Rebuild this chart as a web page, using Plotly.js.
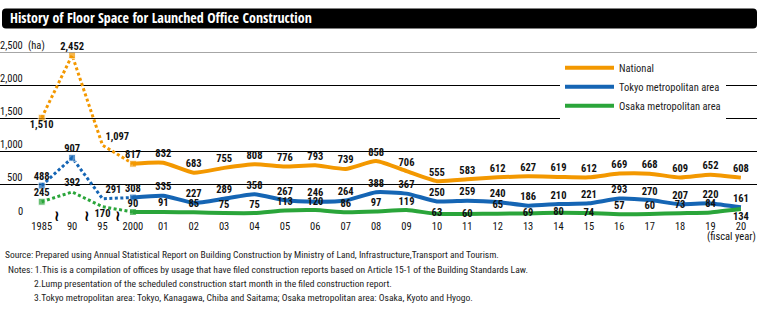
<!DOCTYPE html>
<html>
<head>
<meta charset="utf-8">
<script src="https://cdn.plot.ly/plotly-3.0.1.min.js"></script>
<style>html,body{margin:0;padding:0;background:#fff;}#chart{width:760px;height:331px;}</style>
</head>
<body>
<div id="chart"></div>
<script>
// ---- data ----
const categories = ['1985','90','95','2000','01','02','03','04','05','06','07','08','09','10','11','12','13','14','15','16','17','18','19','20'];
const national = [1510,2452,1097,817,832,683,755,808,776,793,739,858,706,555,583,612,627,619,612,669,668,609,652,608];
const tokyo    = [488,907,291,308,335,227,289,358,267,246,264,388,367,250,259,240,186,210,221,293,270,207,220,161];
const osaka    = [245,392,170,90,91,85,75,75,113,120,86,97,119,63,60,65,69,80,74,57,60,73,84,134];
const seriesNames = ['National','Tokyo metropolitan area','Osaka metropolitan area'];
const yTicks = [0,500,1000,1500,2000,2500];
const yTickText = ['0','500','1,000','1,500','2,000','2,500'];
const breakIndex = 3; // dotted (5-year steps) before 2000, solid after

// ---- styling ----
const FONT = 'Roboto Condensed, DejaVu Sans Condensed, sans-serif';
const TFONT = 'Open Sans Condensed, Roboto Condensed, sans-serif';
const colors = ['#F39800','#1565B4','#2AA53A'];
const W = 760, H = 331, ML = 0, MR = 3, MT = 51.7, MB = 112.7;
const PW = W - ML - MR, PH = H - MT - MB;
const px = x => (x - ML) / PW;
const py = y => (H - MB - y) / PH;

// font size that makes a text line span a given pixel width
const ctx = document.createElement('canvas').getContext('2d');
function fitSize(text, width) {
  ctx.font = '20px "Roboto Condensed", sans-serif';
  const w = ctx.measureText(text).width;
  return Math.max(8, Math.min(12, 20 * width / w));
}

const allSeries = [national, tokyo, osaka];
const fmt = v => v.toLocaleString('en-US');

const posNat = categories.map(() => 'top center');
posNat[0] = 'bottom center'; posNat[2] = 'top right';
const posTok = categories.map(() => 'top center');
posTok[2] = 'top right';
const posOsa = categories.map(() => 'top center');
posOsa[2] = 'bottom center'; posOsa[13] = 'middle center'; posOsa[14] = 'middle center';
posOsa[16] = 'middle center'; posOsa[17] = 'middle center'; posOsa[18] = 'middle center';
posOsa[23] = 'bottom center';
const positions = [posNat, posTok, posOsa];
const dotMarkerSizes = [[7,7,0,7],[7,7,0,7],[7,0,0,7]];

const traces = [];
allSeries.forEach((s, k) => {
  traces.push({
    type: 'scatter', mode: 'lines+markers',
    x: categories.slice(0, breakIndex + 1), y: s.slice(0, breakIndex + 1),
    line: {color: colors[k], width: 3, dash: '3px,2.5px'},
    marker: {symbol: 'square', size: dotMarkerSizes[k], color: colors[k]},
    showlegend: false, hoverinfo: 'skip'
  });
});
allSeries.forEach((s, k) => {
  traces.push({
    type: 'scatter', mode: 'lines', name: seriesNames[k],
    x: categories.slice(breakIndex), y: s.slice(breakIndex),
    line: {color: colors[k], width: 4, shape: 'spline', smoothing: 0.5},
    showlegend: true
  });
});
allSeries.forEach((s, k) => {
  traces.push({
    type: 'scatter', mode: 'markers+text',
    x: categories, y: s, text: s.map(fmt),
    textposition: positions[k],
    marker: {size: 3, opacity: 0, color: colors[k]},
    textfont: {family: FONT, size: 10.5, color: '#111', weight: 'bold'},
    cliponaxis: false, showlegend: false, hoverinfo: 'skip'
  });
});

const annotations = [];
yTicks.forEach((v, i) => {
  annotations.push({xref: 'paper', yref: 'y', x: px(24.5), y: v, xanchor: 'right', yanchor: 'middle',
    yshift: 7, text: yTickText[i], showarrow: false, font: {family: FONT, size: 10.5, color: '#111'}});
});
annotations.push({xref: 'paper', yref: 'y', x: px(26), y: 2500, xanchor: 'left', yanchor: 'middle',
  yshift: 7, text: '(ha)', showarrow: false, font: {family: FONT, size: 10.5, color: '#111'}});
[0.5, 1.5, 2.5].forEach(b => {
  annotations.push({xref: 'x', yref: 'y', x: b, y: 0, xanchor: 'center', yanchor: 'middle', yshift: 2,
    text: '≀', showarrow: false, font: {family: 'DejaVu Sans', size: 15, color: '#000', weight: 'bold'}});
});
annotations.push({xref: 'paper', yref: 'paper', x: px(731.5), y: py(237), xanchor: 'center', yanchor: 'middle',
  text: '(fiscal year)', showarrow: false, font: {family: FONT, size: 10.5, color: '#111'}});

const sourceText = 'Source: Prepared using Annual Statistical Report on Building Construction by Ministry of Land, Infrastructure,Transport and Tourism.';
const note1 = 'Notes: 1.This is a compilation of offices by usage that have filed construction reports based on Article 15-1 of the Building Standards Law.';
const note2 = '2.Lump presentation of the scheduled construction start month in the filed construction report.';
const note3 = '3.Tokyo metropolitan area: Tokyo, Kanagawa, Chiba and Saitama; Osaka metropolitan area: Osaka, Kyoto and Hyogo.';
const srcSize = fitSize(sourceText, 494);
const noteSize = fitSize(note1, 521);
const notes = [
  [3, 255, srcSize, sourceText],
  [5.5, 269.5, noteSize, note1],
  [31.5, 284, noteSize, note2],
  [31.5, 298.5, noteSize, note3]
];
notes.forEach(n => {
  annotations.push({xref: 'paper', yref: 'paper', x: px(n[0]), y: py(n[1]), xanchor: 'left', yanchor: 'middle',
    text: n[3], showarrow: false, font: {family: FONT, size: n[2], color: '#222'}});
});

// rounded title bar
const bx0 = 2, bx1 = 757, by0 = 8, by1 = 28, r = 4;
const titlePath = `M ${px(bx0 + r)} ${py(by0)} L ${px(bx1 - r)} ${py(by0)} Q ${px(bx1)} ${py(by0)} ${px(bx1)} ${py(by0 + r)} ` +
  `L ${px(bx1)} ${py(by1 - r)} Q ${px(bx1)} ${py(by1)} ${px(bx1 - r)} ${py(by1)} L ${px(bx0 + r)} ${py(by1)} ` +
  `Q ${px(bx0)} ${py(by1)} ${px(bx0)} ${py(by1 - r)} L ${px(bx0)} ${py(by0 + r)} Q ${px(bx0)} ${py(by0)} ${px(bx0 + r)} ${py(by0)} Z`;

const layout = {
  width: W, height: H,
  margin: {l: ML, r: MR, t: MT, b: MB, pad: 0},
  paper_bgcolor: '#fff', plot_bgcolor: '#fff',
  title: {text: 'History of Floor Space for Launched Office Construction', x: 10 / W, xanchor: 'left',
    xref: 'container', yref: 'container', y: 1 - 18.5 / H, yanchor: 'middle',
    font: {family: TFONT, size: 14, color: '#fff', weight: 'bold'}},
  xaxis: {type: 'category', categoryorder: 'array', categoryarray: categories,
    range: [-1.372, 23.53], showgrid: false, zeroline: false, showline: false, ticks: '',
    tickfont: {family: FONT, size: 10.5, color: '#111'}, fixedrange: true},
  yaxis: {range: [0, 2500], tickvals: [0,500,1000,1500,2000], showticklabels: false, ticks: '',
    showgrid: true, gridcolor: '#000', gridwidth: 1, zeroline: false, showline: false, fixedrange: true},
  showlegend: true,
  legend: {x: px(560), y: py(53), xanchor: 'left', yanchor: 'top', bgcolor: '#fff', borderwidth: 0,
    itemwidth: 49, font: {family: FONT, size: 10.5, color: '#222'}, tracegroupgap: 0},
  shapes: [
    {type: 'path', xref: 'paper', yref: 'paper', path: titlePath, fillcolor: '#000', line: {width: 0}, layer: 'below'},
    {type: 'line', xref: 'paper', yref: 'y', x0: 0, x1: 1, y0: 2500, y1: 2500, line: {color: '#888', width: 1.5}}
  ],
  annotations: annotations
};

Plotly.newPlot('chart', traces, layout, {displayModeBar: false, staticPlot: true});
</script>
</body>
</html>
